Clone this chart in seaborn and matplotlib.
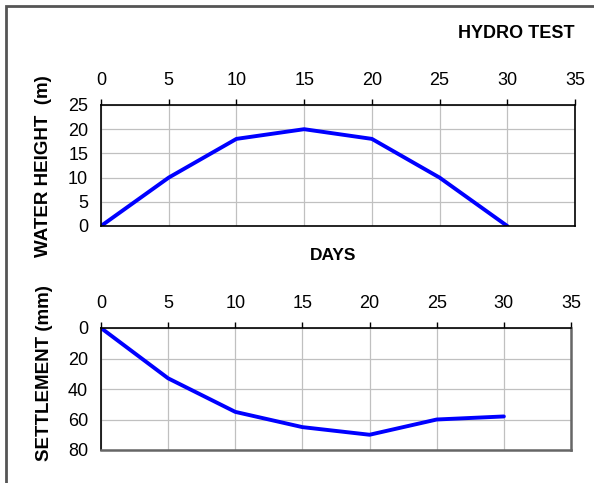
import matplotlib
matplotlib.use("Agg")
import matplotlib.pyplot as plt
import seaborn as sns
import pandas as pd
from matplotlib.patches import Rectangle

days = [0, 5, 10, 15, 20, 25, 30]
water_height = [0, 10, 18, 20, 18, 10, 0]
settlement = [0, 33, 55, 65, 70, 60, 58]
x_ticks = [0, 5, 10, 15, 20, 25, 30, 35]
wh_ticks = [0, 5, 10, 15, 20, 25]
st_ticks = [0, 20, 40, 60, 80]

sns.set_theme(style="white")
plt.rcParams['font.family'] = ['Liberation Sans', 'DejaVu Sans']
plt.rcParams['text.color'] = 'black'
plt.rcParams['axes.labelcolor'] = 'black'

df = pd.DataFrame({"days": days, "wh": water_height, "st": settlement})

W, H = 594, 483
fig = plt.figure(figsize=(W / 100, H / 100), dpi=100)

def box(l, t, r, b):
    return [l / W, 1 - b / H, (r - l) / W, (b - t) / H]

ax1 = fig.add_axes(box(101, 105, 575, 226))
ax2 = fig.add_axes(box(101, 328, 571, 450))

for ax, col, ticks, lim, lab, top, bot, lab_y in [
    (ax1, "wh", wh_ticks, (0, 25), "WATER HEIGHT  (m)", 105, 226, 166.5),
    (ax2, "st", st_ticks, (80, 0), "SETTLEMENT (mm)", 328, 450, 373),
]:
    sns.lineplot(data=df, x="days", y=col, ax=ax, color="#0000FF", linewidth=2.8)
    ax.set_xlim(0, 35)
    ax.set_ylim(*lim)
    ax.set_xticks(x_ticks)
    ax.set_yticks(ticks)
    ax.xaxis.tick_top()
    ax.tick_params(axis="both", which="both", direction="out", length=4.2, width=1,
                   color="black", labelsize=13, labelcolor="black")
    ax.tick_params(axis="x", pad=7)
    ax.tick_params(axis="y", pad=5)
    ax.grid(True, color="#c0c0c0", linewidth=0.9)
    ax.set_axisbelow(True)
    for s in ax.spines.values():
        s.set_visible(True)
        s.set_color("black")
        s.set_linewidth(1.2)
    ax.set_xlabel("")
    ax.set_ylabel(lab, fontsize=13.5, fontweight="bold", va="center", ha="center")
    ax.yaxis.set_label_coords((44 - 101) / 474, (bot - lab_y) / (bot - top))

ax2.spines["right"].set_color("#666666")
ax2.spines["bottom"].set_color("#666666")
ax2.spines["right"].set_linewidth(1.8)
ax2.spines["bottom"].set_linewidth(1.8)

fig.text(575 / W, 1 - 33 / H, "HYDRO TEST", ha="right", va="center",
         fontsize=13, fontweight="bold")
fig.text(333 / W, 1 - 255 / H, "DAYS", ha="center", va="center",
         fontsize=12.5, fontweight="bold")

fig.patches.append(Rectangle((6 / W, -0.1), 1.2, 1 - 5.5 / H + 0.1,
                             transform=fig.transFigure, fill=False,
                             edgecolor="#555555", linewidth=2))

fig.savefig("out.png", dpi=100)
